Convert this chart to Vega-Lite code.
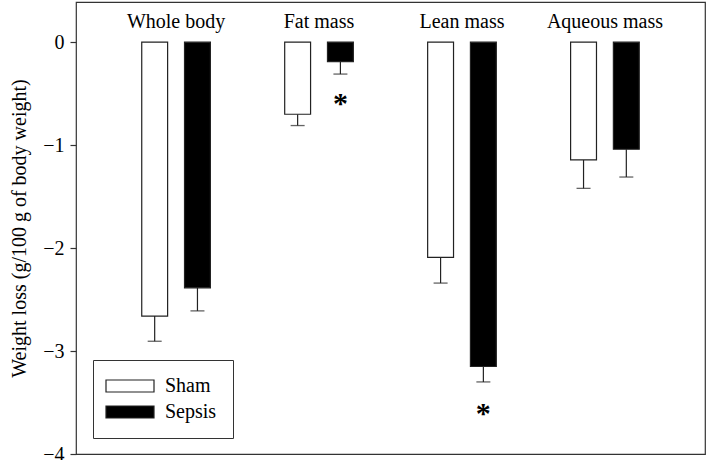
{
  "$schema": "https://vega.github.io/schema/vega-lite/v6.json",
  "autosize": "none",
  "padding": {"left": 76, "top": 2, "right": 4, "bottom": 6},
  "width": 629,
  "height": 452,
  "background": "white",
  "config": {
    "font": "Times New Roman, Liberation Serif, serif",
    "view": {"stroke": "#333", "strokeWidth": 1.2}
  },
  "datasets": {
    "bars": [
      {"group": "Whole body", "condition": "Sham", "mean": -2.66, "lower": -2.905},
      {"group": "Whole body", "condition": "Sepsis", "mean": -2.386, "lower": -2.61},
      {"group": "Fat mass", "condition": "Sham", "mean": -0.70, "lower": -0.81},
      {"group": "Fat mass", "condition": "Sepsis", "mean": -0.19, "lower": -0.31},
      {"group": "Lean mass", "condition": "Sham", "mean": -2.09, "lower": -2.34},
      {"group": "Lean mass", "condition": "Sepsis", "mean": -3.15, "lower": -3.30},
      {"group": "Aqueous mass", "condition": "Sham", "mean": -1.144, "lower": -1.42},
      {"group": "Aqueous mass", "condition": "Sepsis", "mean": -1.04, "lower": -1.31}
    ],
    "labels": [
      {"group": "Whole body", "y": 0.2},
      {"group": "Fat mass", "y": 0.2},
      {"group": "Lean mass", "y": 0.2},
      {"group": "Aqueous mass", "y": 0.2}
    ],
    "stars": [
      {"group": "Fat mass", "condition": "Sepsis", "y": -0.56},
      {"group": "Lean mass", "condition": "Sepsis", "y": -3.57}
    ]
  },
  "encoding": {
    "x": {
      "field": "group",
      "type": "nominal",
      "sort": ["Whole body", "Fat mass", "Lean mass", "Aqueous mass"],
      "scale": {"paddingInner": 0.4, "paddingOuter": 0.4},
      "axis": null
    }
  },
  "layer": [
    {
      "data": {"name": "bars"},
      "mark": {"type": "rule", "color": "#222", "strokeWidth": 1.2},
      "encoding": {
        "xOffset": {"field": "condition", "type": "nominal", "sort": ["Sham", "Sepsis"], "scale": {"paddingInner": 0.395, "paddingOuter": 0.2}},
        "y": {"field": "mean", "type": "quantitative"},
        "y2": {"field": "lower"}
      }
    },
    {
      "data": {"name": "bars"},
      "mark": {"type": "tick", "color": "#222", "size": 14, "thickness": 1.3, "orient": "horizontal"},
      "encoding": {
        "xOffset": {"field": "condition", "type": "nominal", "sort": ["Sham", "Sepsis"], "scale": {"paddingInner": 0.395, "paddingOuter": 0.2}},
        "y": {"field": "lower", "type": "quantitative"}
      }
    },
    {
      "data": {"name": "bars"},
      "mark": {"type": "bar", "stroke": "#222", "strokeWidth": 1.2},
      "encoding": {
        "xOffset": {"field": "condition", "type": "nominal", "sort": ["Sham", "Sepsis"], "scale": {"paddingInner": 0.395, "paddingOuter": 0.2}},
        "y": {
          "field": "mean",
          "type": "quantitative",
          "scale": {"domain": [-4, 0.39], "nice": false, "zero": false},
          "axis": {
            "title": "Weight loss (g/100 g of body weight)",
            "values": [-4, -3, -2, -1, 0],
            "format": "d",
            "grid": false,
            "domain": false,
            "tickSize": 6,
            "tickColor": "#333",
            "tickWidth": 1.2,
            "labelFontSize": 20,
            "labelColor": "black",
            "labelPadding": 6,
            "titleFontSize": 20,
            "titleFontWeight": "normal",
            "titleColor": "black",
            "titlePadding": 13
          }
        },
        "fill": {
          "field": "condition",
          "type": "nominal",
          "sort": ["Sham", "Sepsis"],
          "scale": {"domain": ["Sham", "Sepsis"], "range": ["white", "black"]},
          "legend": {
            "title": null,
            "orient": "none",
            "legendX": 17,
            "legendY": 358,
            "padding": 16,
            "strokeColor": "#333",
            "fillColor": "white",
            "symbolType": "M-4,-1H4V1H-4Z",
            "symbolSize": 144,
            "symbolStrokeColor": "#222",
            "symbolStrokeWidth": 1.2,
            "symbolOffset": 11,
            "labelFontSize": 20,
            "labelColor": "black",
            "labelOffset": 25,
            "rowPadding": 6,
            "labelExpr": "datum.label + '\u00a0\u00a0\u00a0'"
          }
        }
      }
    },
    {
      "data": {"name": "labels"},
      "mark": {"type": "text", "fontSize": 20, "baseline": "middle", "align": "center", "color": "black"},
      "encoding": {
        "y": {"field": "y", "type": "quantitative"},
        "text": {"field": "group"}
      }
    },
    {
      "data": {"name": "stars"},
      "mark": {"type": "text", "fontSize": 30, "fontWeight": "bold", "baseline": "middle", "align": "center", "color": "black", "dy": 4},
      "encoding": {
        "xOffset": {"field": "condition", "type": "nominal", "sort": ["Sham", "Sepsis"], "scale": {"paddingInner": 0.395, "paddingOuter": 0.2}},
        "y": {"field": "y", "type": "quantitative"},
        "text": {"value": "*"}
      }
    }
  ]
}
